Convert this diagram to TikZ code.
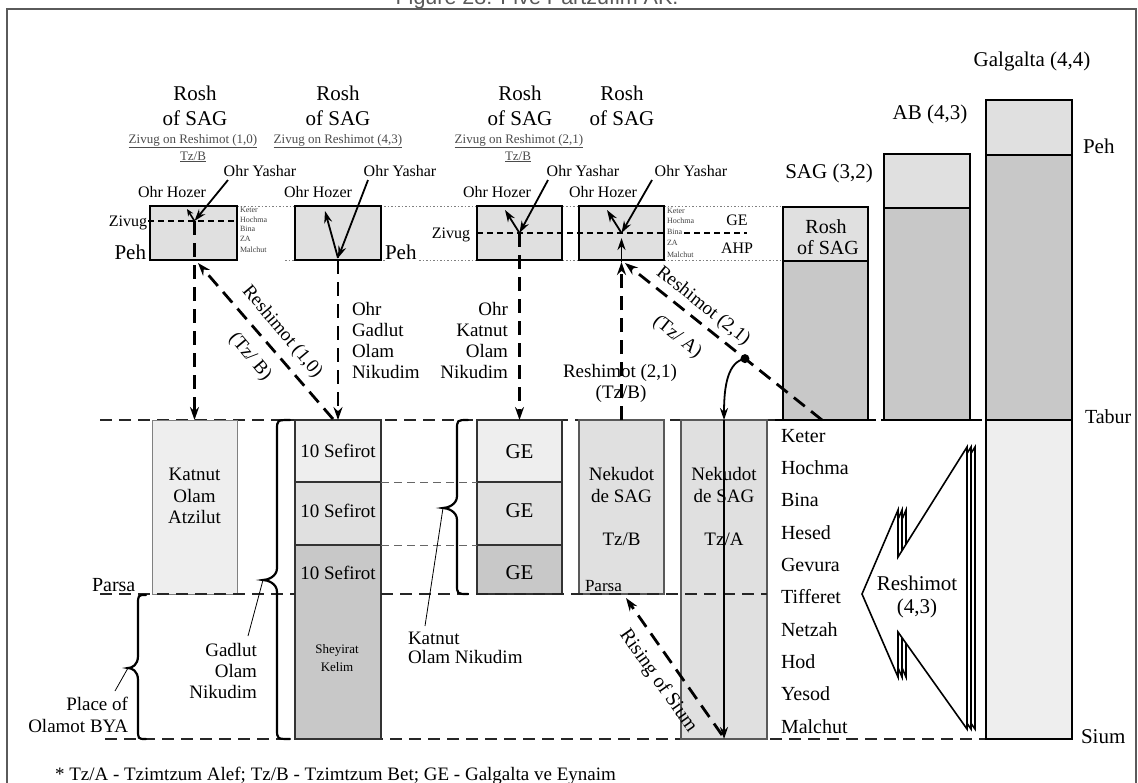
\documentclass[tikz,border=0pt]{standalone}
\usepackage{fontspec}
\setmainfont{Liberation Serif}
\newfontfamily\titlefont{Liberation Sans}
\usetikzlibrary{arrows.meta,calc}
\definecolor{fillA}{HTML}{EEEEEE}
\definecolor{fillB}{HTML}{E0E0E0}
\definecolor{fillC}{HTML}{C8C8C8}
\definecolor{frameC}{HTML}{5A5A5A}
\newcommand\fs[2]{\fontsize{#1}{#2}\selectfont}
% name, xend, xspine, xtip, ytop, ymid, ybot
\newcommand\vbrace[7]{%
 \coordinate (#1) at (#4,#6);
 \draw[bracestyle] (#2,#5) .. controls (#3,#5) and (#3,#5) .. (#3,{#5+10}) -- (#3,{#6-12})
   .. controls (#3,{#6-3}) and ({#4+4},#6) .. (#1)
   .. controls ({#4+4},#6) and (#3,{#6+3}) .. (#3,{#6+12}) -- (#3,{#7-10})
   .. controls (#3,#7) and (#3,#7) .. (#2,#7);}
\tikzset{
 txt/.style={inner sep=0pt, outer sep=0pt, anchor=base},
 f21/.style={txt, font=\fs{21}{25}},
 f20/.style={txt, font=\fs{20}{24}},
 f19/.style={txt, font=\fs{19}{22}},
 f17/.style={txt, font=\fs{17}{20}},
 f16/.style={txt, font=\fs{16}{19}},
 f13/.style={txt, font=\fs{13}{15}},
 fsub/.style={txt, font=\fs{13}{15}, text=black!70},
 ftiny/.style={txt, font=\fs{8}{9}, text=black!75, anchor=base west},
 boxs/.style={draw, anchor=north west, inner sep=0pt, outer sep=0pt, line width=1.5pt},
 lbox/.style={draw=black!80, anchor=north west, inner sep=0pt, outer sep=0pt, line width=1.1pt},
 barb/.style={draw, anchor=north west, inner sep=0pt, outer sep=0pt, line width=1.6pt},
 arr/.style={line width=1.8pt, -{Stealth[length=12pt,width=8pt]}},
 smallarr/.style={line width=1.6pt, -{Stealth[length=7pt,width=6pt]}},
 darr/.style={line width=2.8pt, dash pattern=on 14pt off 8pt, -{Stealth[length=13pt,width=9pt]}},
 levdash/.style={line width=1.4pt, dash pattern=on 12pt off 7pt, black!85},
 dotline/.style={line width=1pt, dash pattern=on 1.5pt off 2pt, black!50},
 zdash/.style={line width=1.2pt, dash pattern=on 6pt off 4pt},
 thindash/.style={line width=1pt, dash pattern=on 8pt off 5pt, black!60},
 bracestyle/.style={line width=2.2pt, line cap=round},
 leader/.style={line width=0.8pt},
 bigarrow/.style={line width=1.6pt, fill=white, line join=miter},
}
\begin{document}
\begin{tikzpicture}[x=1pt,y=-1pt]
\useasboundingbox (0,0) rectangle (1138,782);
% title and frame
\node[txt, text=black!65] (title) at (537,4) {\fontsize{21.5}{25}\titlefont Figure 28: Five Partzufim AK.};
\draw[line width=2.2pt, frameC] (7,800) -- (7,9) -- (1136,9) -- (1136,800);

% level lines
\draw[levdash] (100,420) -- (776,420);
\draw[levdash] (105,739) -- (986,739);
\draw[dotline] (237,206) -- (783,206);
\draw[dotline] (285,260) -- (385,260) (419,260) -- (783,260);

% Rosh boxes
\node[boxs, fill=fillB, minimum width=87pt, minimum height=54pt] (r1) at (150,206) {};
\node[boxs, fill=fillB, minimum width=86pt, minimum height=54pt] (r2) at (295,206) {};
\node[boxs, fill=fillB, minimum width=85pt, minimum height=54pt] (r3) at (477,206) {};
\node[boxs, fill=fillB, minimum width=85pt, minimum height=54pt] (r4) at (579,206) {};
\draw[zdash] (148,221) -- (237,221);
\draw[zdash] (477,233) -- (666,233) (684,233) -- (747,233);

% right bars
\node[barb, fill=fillB, minimum width=85pt, minimum height=54pt] (sagr) at (783,207) {};
\node[barb, fill=fillC, minimum width=85pt, minimum height=159pt] (sagb) at (783,261) {};
\node[barb, fill=fillB, minimum width=86pt, minimum height=54pt] (abr) at (884,154) {};
\node[barb, fill=fillC, minimum width=86pt, minimum height=212pt] (abb) at (884,208) {};
\node[barb, fill=fillB, minimum width=86pt, minimum height=55pt] (galr) at (986,100) {};
\node[barb, fill=fillC, minimum width=86pt, minimum height=265pt] (galm) at (986,155) {};
\node[barb, fill=fillA, minimum width=86pt, minimum height=319pt] (galb) at (986,420) {};
\draw[line width=1.5pt] (775,420) -- (876,420) (881,420) -- (982,420);

% lower boxes
\node[lbox, draw=black!50, line width=1pt, fill=fillA, minimum width=85pt, minimum height=174pt] (kat) at (152,420) {};
\node[lbox, fill=fillA, minimum width=86pt, minimum height=62pt] (g1) at (295,420) {};
\node[lbox, fill=fillB, minimum width=86pt, minimum height=63pt] (g2) at (295,482) {};
\node[lbox, fill=fillC, minimum width=86pt, minimum height=194pt] (g3) at (295,545) {};
\node[lbox, fill=fillA, minimum width=85pt, minimum height=62pt] (e1) at (477,420) {};
\node[lbox, fill=fillB, minimum width=85pt, minimum height=63pt] (e2) at (477,482) {};
\node[lbox, fill=fillC, minimum width=85pt, minimum height=49pt] (e3) at (477,545) {};
\node[lbox, draw=black!65, fill=fillB, minimum width=85pt, minimum height=174pt] (nb) at (579,420) {};
\node[lbox, draw=black!65, fill=fillB, minimum width=86pt, minimum height=319pt] (na) at (681,420) {};
\draw[thindash] (g2.north east) -- (e2.north west);
\draw[thindash] (g3.north east) -- (e3.north west);
\draw[levdash] (100,594) -- (295,594) (381,594) -- (767,594);

% big hollow arrow
\foreach \s in {8,4,0}{
 \draw[bigarrow, xshift=\s pt] (862,594) -- (898,510) -- (898,557) -- (967,447) -- (967,729) -- (898,632) -- (898,677) -- cycle;}

% ---- texts top
\foreach \cx/\n in {195/1,338/2,520/3,622/4}{
 \node[f21] (rosha\n) at (\cx,100) {Rosh};
 \node[f21] (roshb\n) at (\cx,125) {of SAG};}
\node[fsub] (zr1) at (193,143) {\underline{Zivug on Reshimot (1,0)}};
\node[fsub] (zt1) at (193,160) {\underline{Tz/B}};
\node[fsub] (zr2) at (338,143) {\underline{Zivug on Reshimot (4,3)}};
\node[fsub] (zr3) at (519,143) {\underline{Zivug on Reshimot (2,1)}};
\node[fsub] (zt3) at (518,160) {\underline{Tz/B}};
\foreach \cx/\n in {260/1,400/2,583/3,691/4}{\node[f16] (yash\n) at (\cx,176) {Ohr Yashar};}
\foreach \cx/\n in {172/1,318/2,497/3,603/4}{\node[f16] (hoz\n) at (\cx,197) {Ohr Hozer};}
\node[f16, anchor=base east] (zv1) at (147,226) {Zivug};
\node[f16, anchor=base east] (zv3) at (470,238) {Zivug};
\node[f21, anchor=base east] (peh1) at (146,259) {Peh};
\node[f21, anchor=base west] (peh2) at (385,259) {Peh};
\node[ftiny] (k1) at (240,212) {Keter};
\node[ftiny] (h1) at (240,222) {Hochma};
\node[ftiny] (b1) at (240,231) {Bina};
\node[ftiny] (za1) at (240,241) {ZA};
\node[ftiny] (m1) at (240,252) {Malchut};
\node[ftiny] (k4) at (667,213) {Keter};
\node[ftiny] (h4) at (667,223) {Hochma};
\node[ftiny] (b4) at (667,234) {Bina};
\node[ftiny] (za4) at (667,245) {ZA};
\node[ftiny] (m4) at (667,257) {Malchut};
\node[f16] (ge4) at (737,225) {GE};
\node[f16] (ahp4) at (737,253) {AHP};

% right labels
\node[f21] (lsag) at (829,178) {SAG (3,2)};
\node[f21] (lab) at (930,119) {AB (4,3)};
\node[f21] (lgal) at (1032,66) {Galgalta (4,4)};
\node[f21, anchor=base west] (lpeh) at (1083,153) {Peh};
\node[f20, anchor=base west] (ltab) at (1085,423) {Tabur};
\node[f21, anchor=base west] (lsium) at (1081,743) {Sium};
\node[f20] (sroa) at (826,233) {Rosh};
\node[f20] (srob) at (828,254) {of SAG};

% lower texts
\node[f19] (kt1) at (194.5,480) {Katnut};
\node[f19] (kt2) at (194.5,502) {Olam};
\node[f19] (kt3) at (194.5,523) {Atzilut};
\node[f19] (s1) at (338,457) {10 Sefirot};
\node[f19] (s2) at (338,517) {10 Sefirot};
\node[f19] (s3) at (338,579) {10 Sefirot};
\node[f13] (sk1) at (337,653) {Sheyirat};
\node[f13] (sk2) at (337,671) {Kelim};
\node[f21] (ge1) at (519.5,458) {GE};
\node[f21] (ge2) at (519.5,517) {GE};
\node[f21] (ge3) at (519.5,579) {GE};
\node[f19] (nb1) at (621.5,480) {Nekudot};
\node[f19] (nb2) at (621.5,502) {de SAG};
\node[f19] (nb3) at (621.5,545) {Tz/B};
\node[f19] (na1) at (724,480) {Nekudot};
\node[f19] (na2) at (724,502) {de SAG};
\node[f19] (na3) at (724,545) {Tz/A};
\node[f17, anchor=base west] (parsab) at (585,591) {Parsa};
\node[f20, anchor=base west] (parsal) at (92,591) {Parsa};
\foreach \t/\yy/\n in {Keter/442/1,Hochma/474/2,Bina/506/3,Hesed/539/4,Gevura/571/5,Tifferet/603/6,Netzah/636/7,Hod/668/8,Yesod/700/9,Malchut/733/10}{
 \node[f20, anchor=base west] (sef\n) at (781,\yy) {\t};}
\node[f21] (rs43a) at (917,590) {Reshimot};
\node[f21] (rs43b) at (917,613) {(4,3)};
\foreach \t/\yy/\n in {Ohr/315/1,Gadlut/336/2,Olam/357/3,Nikudim/378/4}{
 \node[f19, anchor=base west] (ogn\n) at (352,\yy) {\t};}
\foreach \t/\yy/\n in {Ohr/315/1,Katnut/336/2,Olam/357/3,Nikudim/378/4}{
 \node[f19, anchor=base east] (okn\n) at (508,\yy) {\t};}
\node[f19] (rs21a) at (620,377) {Reshimot (2,1)};
\node[f19] (rs21b) at (621,398) {(Tz/B)};
\node[f19, anchor=base east] (gon1) at (257,656) {Gadlut};
\node[f19, anchor=base east] (gon2) at (257,677) {Olam};
\node[f19, anchor=base east] (gon3) at (257,698) {Nikudim};
\node[f19, anchor=base east] (bya1) at (128,710) {Place of};
\node[f19, anchor=base east] (bya2) at (128,732) {Olamot BYA};
\node[f19, anchor=base west] (kon1) at (408,644) {Katnut};
\node[f19, anchor=base west] (kon2) at (408,663) {Olam Nikudim};
\node[f19, anchor=base west] (foot) at (55,780) {* Tz/A - Tzimtzum Alef; Tz/B - Tzimtzum Bet; GE - Galgalta ve Eynaim};

% rotated labels
\node[f19, anchor=center, rotate=-50] (res10) at (282,332) {Reshimot (1,0)};
\node[f19, anchor=center, rotate=-50] (tzb10) at (250,357) {(Tz/ B)};
\node[f19, anchor=center, rotate=-38.5] (res21) at (703,306) {Reshimot (2,1)};
\node[f19, anchor=center, rotate=-38.5] (tza21) at (677,337) {(Tz/ A)};
\node[f20, anchor=center, rotate=-55] (rising) at (658,681) {Rising of Sium};

% ---- arrows
\coordinate (z1) at (194.5,221);
\draw[arr] (228,180) -- (z1);
\draw[smallarr] (z1) -- (187,209);
\draw[darr] (z1) -- (kat.north);

\coordinate (p2) at (338,258);
\draw[arr] (368,180) -- (p2);
\draw[arr] (p2) -- (325,211);
\draw[darr] (338,260) -- (g1.north);

\coordinate (z3) at (519.5,233);
\draw[arr] (548,180) -- (z3);
\draw[arr] (z3) -- (505,210);
\draw[darr] (z3) -- (e1.north);

\coordinate (z4) at (621.5,233);
\coordinate (z4b) at (621.5,238);
\coordinate (p4) at (621.5,262);
\coordinate (p4r) at (625,263);
\draw[arr] (652,180) -- (z4);
\draw[arr] (z4) -- (607,210);
\draw[arr] (p4) -- (z4b);
\draw[darr] (nb.north) -- (p4);

\coordinate (sagfoot) at (822,420);
\draw[darr] (sagfoot) -- (p4r);
\coordinate (rdot) at ($(sagfoot)!0.391!(p4r)$);
\fill (rdot) circle (4.5pt);
\draw[arr] (rdot) .. controls (728,362) and (724,385) .. (na.north);
\draw[arr] (na.north) -- (na.south);

\coordinate (rs1) at (722,735);
\coordinate (rs2) at (626,598);
\draw[darr] (rs1) -- (rs2);

\coordinate (r10a) at (333,419);
\coordinate (r10b) at (198,263);
\draw[darr] (r10a) -- (r10b);

% braces and leaders
\vbrace{bt1}{290}{277}{263}{420}{580}{739}
\vbrace{bt2}{146}{138}{128}{595}{668}{739}
\vbrace{bt3}{468}{457}{443}{420}{508}{594}
\draw[leader] (bt1) -- (248,636);
\draw[leader] (bt2) -- (115,691);
\draw[leader] (bt3) -- (425,626);
\end{tikzpicture}
\end{document}
